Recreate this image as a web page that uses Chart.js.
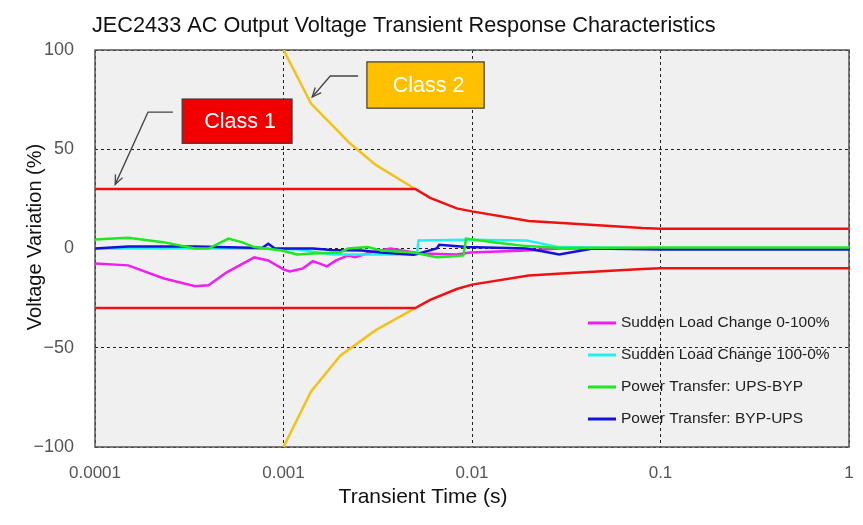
<!DOCTYPE html>
<html>
<head>
<meta charset="utf-8">
<title>JEC2433 AC Output Voltage Transient Response</title>
<script src="https://cdn.jsdelivr.net/npm/chart.js@4.4.1/dist/chart.umd.min.js"></script>
<style>
  html, body { margin: 0; padding: 0; background: #fff; }
  #wrap { width: 863px; height: 525px; }
</style>
</head>
<body>
<div id="wrap"><canvas id="chart" width="863" height="525"></canvas></div>
<script>
'use strict';

// ── Axis ticks ──────────────────────────────────────────────────────────────
const X_TICKS = [0.0001, 0.001, 0.01, 0.1, 1];
const X_TICK_LABELS = ['0.0001', '0.001', '0.01', '0.1', '1'];
const Y_TICKS = [-100, -50, 0, 50, 100];
const Y_TICK_LABELS = ['\u2212100', '\u221250', '0', '50', '100'];

// ── JEC2433 limit curves (time s, variation %) ─────────────────────────────
const class1Time = [0.0001, 0.005, 0.006, 0.0083, 0.01, 0.02, 0.03, 0.08, 0.1, 1];
const class1Upper = [30, 30, 25.5, 20.2, 18.7, 13.8, 12.8, 10.3, 10, 10];
const class1Lower = [-30, -30, -25.9, -20.4, -18.2, -13.6, -12.6, -10.3, -10, -10];

const class2UpperTime = [0.001, 0.0014, 0.00225, 0.0031, 0.005];
const class2Upper = [100, 73, 53, 42, 30];
const class2LowerTime = [0.001, 0.0014, 0.002, 0.0031, 0.005];
const class2Lower = [-100, -72, -54, -41, -30];

// ── Measured responses ─────────────────────────────────────────────────────
const loadUpTime = [0.0001, 0.00015, 0.00023, 0.00034, 0.0004, 0.0005, 0.0007, 0.00083, 0.001,
  0.00108, 0.00127, 0.00143, 0.00156, 0.0017, 0.0019, 0.0022, 0.0024, 0.0029, 0.0037, 0.0053,
  0.0083, 0.0098, 0.0195, 0.029, 1];
const loadUp = [-7.5, -8.5, -15, -19, -18.5, -12, -4.5, -6, -10.5,
  -11.6, -10, -6.4, -7.6, -9, -6, -3.5, -4.4, -1.9, 0, -2.5,
  -3, -2, -1, 0, 0];

const loadDownTime = [0.0001, 0.0007, 0.0012, 0.0018, 0.0051, 0.0052, 0.0095, 0.0195, 0.029, 0.1, 1];
const loadDown = [0, 0, -0.5, -3, -3, 4, 4.4, 4, 0.7, 0, 0];

const upsToBypTime = [0.0001, 0.00015, 0.00023, 0.00034, 0.0004, 0.00051, 0.0006, 0.0007, 0.00098,
  0.00118, 0.00143, 0.002, 0.0022, 0.0028, 0.0033, 0.0049, 0.0065, 0.008, 0.009, 0.0093,
  0.0129, 0.0195, 0.029, 0.1, 1];
const upsToByp = [4.5, 5.4, 3.2, 0, 0, 5, 3.2, 0.7, -1,
  -3, -2.5, -2, 0, 0.7, -1, -2, -4.4, -3.9, -3.5, 5,
  3.2, 1.2, 0.2, 0.5, 0.5];

const bypToUpsTime = [0.0001, 0.00015, 0.00034, 0.00077, 0.00083, 0.0009, 0.00143, 0.0018, 0.0026,
  0.0033, 0.0049, 0.0065, 0.0067, 0.0094, 0.0195, 0.024, 0.029, 0.0437, 0.1, 1];
const bypToUps = [0, 1, 1, 0.2, 2.4, 0, 0, -0.7, -1,
  -2, -3.2, 0, 1.9, 0.7, 0, -1.5, -3, 0, -0.5, -0.5];

const SERIES_LABELS = [
  'Sudden Load Change 0-100%',
  'Sudden Load Change 100-0%',
  'Power Transfer: UPS-BYP',
  'Power Transfer: BYP-UPS',
];
const SERIES_COLORS = ['#f01ef0', '#22f0f0', '#1ee81e', '#1212d8'];

const FONT = "'Liberation Sans', Arial, sans-serif";
const RED = '#f01010';
const YELLOW = '#f2c21b';

// callout boxes, given in data coordinates [tLeft, tRight, vTop, vBottom]
const CALLOUTS = [
  { text: 'Class 1', fill: '#f20000', box: [2.9e-4, 1.11e-3, 75.3, 53],
    arrow: [[2.59e-4, 68.7], [1.91e-4, 68.7], [1.28e-4, 32.3]] },
  { text: 'Class 2', fill: '#ffc000', box: [2.77e-3, 0.0116, 94, 70.7],
    arrow: [[2.49e-3, 86.9], [1.77e-3, 86.9], [1.42e-3, 76.3]] },
];

function pts(times, vals) {
  return times.map((t, i) => ({ x: t, y: vals[i] }));
}

function lineSet(label, times, vals, color, order, width) {
  return {
    label: label,
    data: pts(times, vals),
    showLine: true,
    borderColor: color,
    backgroundColor: color,
    borderWidth: width,
    pointRadius: 0,
    tension: 0,
    order: order,
  };
}

// ── Drawing helpers for the bits Chart.js has no widget for ────────────────
const chartDecor = {
  id: 'chartDecor',
  beforeDraw(chart) {
    const { ctx, chartArea: a } = chart;
    ctx.save();
    ctx.fillStyle = '#f0f0f0';
    ctx.fillRect(a.left, a.top, a.right - a.left, a.bottom - a.top);
    ctx.restore();
  },
  beforeDatasetsDraw(chart) {
    const { ctx, chartArea: a } = chart;
    ctx.save();
    ctx.strokeStyle = '#555';
    ctx.lineWidth = 1.5;
    ctx.strokeRect(a.left, a.top, a.right - a.left, a.bottom - a.top);
    ctx.restore();
  },
  afterDraw(chart) {
    const { ctx, scales } = chart;
    const xs = scales.x, ys = scales.y;
    ctx.save();

    // title + axis titles
    ctx.fillStyle = '#111';
    ctx.textBaseline = 'middle';
    ctx.textAlign = 'left';
    ctx.font = '21.7px ' + FONT;
    ctx.fillText('JEC2433 AC Output Voltage Transient Response Characteristics', 92, 26);

    ctx.textAlign = 'center';
    ctx.font = '21px ' + FONT;
    ctx.fillText('Transient Time (s)', 423, 497);

    ctx.save();
    ctx.translate(35, 237);
    ctx.rotate(-Math.PI / 2);
    ctx.font = '20px ' + FONT;
    ctx.fillText('Voltage Variation (%)', 0, 0);
    ctx.restore();

    // legend inside the plot
    ctx.font = '15.5px ' + FONT;
    ctx.textAlign = 'left';
    SERIES_LABELS.forEach((label, i) => {
      const y = 323 + i * 32;
      ctx.strokeStyle = SERIES_COLORS[i];
      ctx.lineWidth = 3;
      ctx.beginPath();
      ctx.moveTo(588, y);
      ctx.lineTo(616, y);
      ctx.stroke();
      ctx.fillStyle = '#222';
      ctx.fillText(label, 621, y);
    });

    // class callouts with arrows
    CALLOUTS.forEach(c => {
      const l = xs.getPixelForValue(c.box[0]);
      const r = xs.getPixelForValue(c.box[1]);
      const t = ys.getPixelForValue(c.box[2]);
      const b = ys.getPixelForValue(c.box[3]);
      ctx.fillStyle = c.fill;
      ctx.fillRect(l, t, r - l, b - t);
      ctx.strokeStyle = '#3a3a3a';
      ctx.lineWidth = 1.2;
      ctx.strokeRect(l, t, r - l, b - t);
      ctx.fillStyle = '#fff';
      ctx.textAlign = 'center';
      ctx.font = '21.5px ' + FONT;
      ctx.fillText(c.text, (l + r) / 2 + 3, (t + b) / 2 + 1);

      const p = c.arrow.map(q => [xs.getPixelForValue(q[0]), ys.getPixelForValue(q[1])]);
      ctx.strokeStyle = '#444';
      ctx.lineWidth = 1.3;
      ctx.beginPath();
      ctx.moveTo(p[0][0], p[0][1]);
      for (let i = 1; i < p.length; i++) ctx.lineTo(p[i][0], p[i][1]);
      ctx.stroke();
      const [ex, ey] = p[p.length - 1];
      const [sx, sy] = p[p.length - 2];
      const ang = Math.atan2(ey - sy, ex - sx);
      ctx.beginPath();
      ctx.moveTo(ex - 10 * Math.cos(ang - 0.4), ey - 10 * Math.sin(ang - 0.4));
      ctx.lineTo(ex, ey);
      ctx.lineTo(ex - 10 * Math.cos(ang + 0.4), ey - 10 * Math.sin(ang + 0.4));
      ctx.stroke();
    });

    ctx.restore();
  },
};

new Chart(document.getElementById('chart'), {
  type: 'scatter',
  data: {
    datasets: [
      lineSet('Class 1 upper', class1Time, class1Upper, RED, 0, 2.5),
      lineSet('Class 1 lower', class1Time, class1Lower, RED, 0, 2.5),
      lineSet('Class 2 upper', class2UpperTime, class2Upper, YELLOW, 1, 2.5),
      lineSet('Class 2 lower', class2LowerTime, class2Lower, YELLOW, 1, 2.5),
      lineSet(SERIES_LABELS[0], loadUpTime, loadUp, SERIES_COLORS[0], 5, 2.5),
      lineSet(SERIES_LABELS[1], loadDownTime, loadDown, SERIES_COLORS[1], 4, 2.5),
      lineSet(SERIES_LABELS[2], upsToBypTime, upsToByp, SERIES_COLORS[2], 2, 2.5),
      lineSet(SERIES_LABELS[3], bypToUpsTime, bypToUps, SERIES_COLORS[3], 3, 2.5),
    ],
  },
  options: {
    responsive: false,
    devicePixelRatio: 1,
    animation: false,
    layout: { padding: { top: 50, right: 14, bottom: 0, left: 0 } },
    plugins: {
      legend: { display: false },
      title: { display: false },
      tooltip: { enabled: false },
    },
    scales: {
      x: {
        type: 'logarithmic',
        min: 0.0001,
        max: 1,
        afterBuildTicks: scale => { scale.ticks = X_TICKS.map(v => ({ value: v })); },
        afterFit: scale => {
          scale.height = 78;
          scale.paddingLeft = 0;
          scale.paddingRight = 0;
        },
        grid: { color: '#222', lineWidth: 1, drawTicks: false },
        border: { display: false, dash: [3, 3] },
        ticks: {
          padding: 16,
          color: '#555',
          font: { family: FONT, size: 17 },
          maxRotation: 0,
          autoSkip: false,
          callback: (v, i) => X_TICK_LABELS[i],
        },
      },
      y: {
        min: -100,
        max: 100,
        afterBuildTicks: scale => { scale.ticks = Y_TICKS.map(v => ({ value: v })); },
        afterFit: scale => {
          scale.width = 95;
          scale.paddingTop = 0;
          scale.paddingBottom = 0;
        },
        grid: { color: '#222', lineWidth: 1, drawTicks: false },
        border: { display: false, dash: [3, 3] },
        ticks: {
          padding: 21,
          color: '#555',
          font: { family: FONT, size: 18 },
          callback: (v, i) => Y_TICK_LABELS[i],
        },
      },
    },
  },
  plugins: [chartDecor],
});
</script>
</body>
</html>
